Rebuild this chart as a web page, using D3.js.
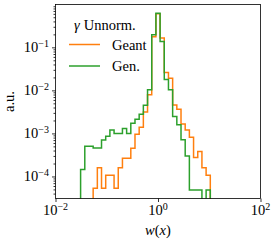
<!DOCTYPE html>
<html>
<head>
<meta charset="utf-8">
<script src="https://cdn.jsdelivr.net/npm/d3@7"></script>
<style>
  body { margin: 0; background: #fff; }
</style>
</head>
<body>
<div id="chart"></div>
<script>
// histogram binning: 49 log bins between 1e-2 and 1e2
var binLo = -2, binHi = 2, nBins = 49;

// bin contents (a.u.), one value per bin, 0 = empty
var geant = [0, 0, 0, 0, 0, 0, 0, 0, 0,
    5.3e-5, 1.59e-4, 5.3e-5, 1.06e-4, 1.06e-4, 5.3e-5, 1.59e-4, 2.65e-4, 2.65e-4, 4.5e-4,
    9.6e-4, 1.4e-3, 3.15e-3, 7.9e-3, 0.175, 0.6, 0.164, 0.026, 0.0192, 4.6e-3,
    3.66e-3, 1.65e-3, 1.2e-3, 8.1e-4, 2.75e-4, 3.8e-4, 1.59e-4, 1.06e-4,
    0, 0, 0, 0, 0, 0, 0, 0, 0, 0, 0, 0];
var gen = [0, 0, 0, 0, 0, 0,
    1.46e-4, 5.0e-4, 5.0e-4, 4.6e-4, 4.6e-4, 7.0e-4, 8.6e-4, 1.2e-3, 1.0e-3, 1.0e-3,
    1.3e-3, 1.0e-3, 1.73e-3, 2.14e-3, 2.8e-3, 4.5e-3, 1.03e-2, 0.195, 0.62, 0.136,
    0.018, 0.0103, 2.46e-3, 1.58e-3, 7.1e-4, 3.0e-4, 4.85e-5, 4.85e-5, 4.85e-5, 0, 4.85e-5,
    0, 0, 0, 0, 0, 0, 0, 0, 0, 0, 0, 0];

var seriesNames = ["Geant", "Gen."];
var seriesColors = ["#ff7f0e", "#2ca02c"];
var legendTitle = "Unnorm.";
var xTickExps = [-2, 0, 2];
var yTickExps = [-4, -3, -2, -1];
var xDomain = [1e-2, 1e2];
var yDomain = [Math.pow(10, -4.512), Math.pow(10, -0.005)];

var serif = "Liberation Serif";
var fs = 14.5;

var margin = { top: 4.5, right: 13.5, bottom: 41.5, left: 55.5 },
    width = 274 - margin.left - margin.right,
    height = 240 - margin.top - margin.bottom;

var svg = d3.select("#chart").append("svg")
    .attr("width", 274)
    .attr("height", 240)
    .attr("font-family", serif);

var g = svg.append("g")
    .attr("transform", "translate(" + margin.left + "," + margin.top + ")");

var x = d3.scaleLog().domain(xDomain).range([0, width]);
var y = d3.scaleLog().domain(yDomain).range([height, 0]);

// bin edges
var edges = d3.range(nBins + 1).map(function (i) {
    return Math.pow(10, binLo + i * (binHi - binLo) / nBins);
});

svg.append("clipPath").attr("id", "clip")
    .append("rect").attr("x", 0).attr("y", 0).attr("width", width).attr("height", height);

// step outline, like histtype='step'
function stepPath(vals) {
    var yy = function (v) { return v > 0 ? y(v) : height + 20; };
    var d = "M" + x(edges[0]) + "," + (height + 20);
    vals.forEach(function (v, i) {
        d += "L" + x(edges[i]) + "," + yy(v) + "L" + x(edges[i + 1]) + "," + yy(v);
    });
    d += "L" + x(edges[nBins]) + "," + (height + 20);
    return d;
}

[geant, gen].forEach(function (vals, i) {
    g.append("path")
        .attr("clip-path", "url(#clip)")
        .attr("d", stepPath(vals))
        .attr("fill", "none")
        .attr("stroke", seriesColors[i])
        .attr("stroke-width", 1.5)
        .attr("stroke-linejoin", "miter");
});

// axes
var yMinor = [];
d3.range(-5, 1).forEach(function (e) {
    for (var m = 2; m <= 9; m++) {
        var v = m * Math.pow(10, e);
        if (v >= yDomain[0] && v <= yDomain[1]) yMinor.push(v);
    }
});

function styleAxis(ax) {
    ax.select(".domain").remove();
    ax.selectAll("line").attr("stroke", "#000").attr("stroke-width", 0.8);
}

g.append("g")
    .call(d3.axisLeft(y).tickValues(yMinor).tickSize(2).tickFormat(""))
    .call(styleAxis);
g.append("g")
    .call(d3.axisLeft(y).tickValues(yTickExps.map(function (e) { return Math.pow(10, e); })).tickSize(3.5).tickFormat(""))
    .call(styleAxis);
g.append("g")
    .attr("transform", "translate(0," + height + ")")
    .call(d3.axisBottom(x).tickValues(xTickExps.map(function (e) { return Math.pow(10, e); })).tickSize(3.5).tickFormat(""))
    .call(styleAxis);

function powLabel(t, e) {
    t.append("tspan").text("10");
    t.append("tspan").attr("dy", -5.5).attr("font-size", 10)
        .text(e < 0 ? "\u2212" + (-e) : String(e));
}

yTickExps.forEach(function (e) {
    var t = g.append("text")
        .attr("x", -6.5)
        .attr("y", y(Math.pow(10, e)) + 4.8)
        .attr("text-anchor", "end")
        .attr("font-family", serif)
        .attr("font-size", fs);
    powLabel(t, e);
});

xTickExps.forEach(function (e) {
    var t = g.append("text")
        .attr("x", x(Math.pow(10, e)))
        .attr("y", height + 16.5)
        .attr("text-anchor", "middle")
        .attr("font-family", serif)
        .attr("font-size", fs);
    powLabel(t, e);
});

// frame
g.append("rect")
    .attr("width", width).attr("height", height)
    .attr("fill", "none").attr("stroke", "#000").attr("stroke-width", 0.8);

// axis labels
var xl = svg.append("text")
    .attr("x", margin.left + width / 2)
    .attr("y", 235)
    .attr("text-anchor", "middle")
    .attr("font-family", serif)
    .attr("font-size", fs);
xl.append("tspan").attr("font-style", "italic").text("w");
xl.append("tspan").text("(");
xl.append("tspan").attr("font-style", "italic").text("x");
xl.append("tspan").text(")");

svg.append("text")
    .attr("transform", "translate(14," + (margin.top + height / 2) + ") rotate(-90)")
    .attr("text-anchor", "middle")
    .attr("font-family", serif)
    .attr("font-size", fs)
    .text("a.u.");

// legend
var lt = svg.append("text")
    .attr("x", 74)
    .attr("y", 30)
    .attr("font-family", serif)
    .attr("font-size", fs);
lt.append("tspan").attr("font-style", "italic").text("\u03b3");
lt.append("tspan").attr("dx", 4).text(legendTitle);

seriesNames.forEach(function (name, i) {
    var ly = 44.5 + i * 21.5;
    svg.append("line")
        .attr("x1", 69).attr("x2", 100)
        .attr("y1", ly).attr("y2", ly)
        .attr("stroke", seriesColors[i])
        .attr("stroke-width", 1.5);
    svg.append("text")
        .attr("x", 112)
        .attr("y", ly + 5)
        .attr("font-family", serif)
        .attr("font-size", fs)
        .text(name);
});
</script>
</body>
</html>
